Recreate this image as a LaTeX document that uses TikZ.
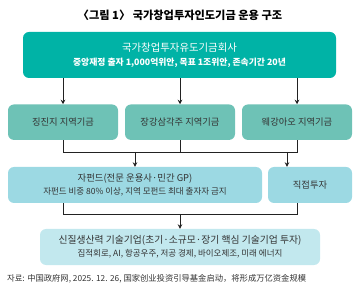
\documentclass[tikz,border=0pt]{standalone}
\usepackage{fontspec}
\setmainfont{Noto Sans CJK KR}
\newfontfamily\zhfont{Noto Sans CJK SC}
\usetikzlibrary{arrows.meta,calc}
\definecolor{cTop}{HTML}{00B3A6}
\definecolor{cRow}{HTML}{6EC2B6}
\definecolor{cMid}{HTML}{9CD9E3}
\definecolor{cBot}{HTML}{C2E8EE}
\definecolor{cTxt}{HTML}{333333}
\definecolor{cLine}{HTML}{222222}
\tikzset{
  boxbase/.style={rounded corners=6pt, inner sep=0pt, align=center, text=cTxt},
  topbox/.style={boxbase, fill=cTop, text=white, minimum width=313pt, minimum height=46pt},
  rowbox/.style={boxbase, fill=cRow, minimum width=110pt, minimum height=35.5pt},
  midbox/.style={boxbase, fill=cMid, minimum height=36pt},
  botbox/.style={boxbase, fill=cBot, minimum width=280pt, minimum height=36pt},
  conn/.style={draw=cLine, line width=0.8pt},
  arr/.style={conn, -{Stealth[length=4.5pt,width=4.5pt]}},
}
\begin{document}
\begin{tikzpicture}[x=1pt,y=-1pt]
\useasboundingbox (0,0) rectangle (361,288);
\node (title) at (180,15.5) {\fontsize{11.2pt}{13pt}\selectfont\bfseries 〈그림 1〉 국가창업투자인도기금 운용 구조};
\node[topbox] (top) at (179.5,55) {\fontsize{10.4pt}{12pt}\selectfont 국가창업투자유도기금회사\\[2pt]
  \fontsize{8.8pt}{10pt}\selectfont\bfseries 중앙재정 출자 1,000억위안, 목표 1조위안, 존속기간 20년};
\node[rowbox] (b1) at (63,122.2) {\fontsize{9.3pt}{11pt}\selectfont 징진지 지역기금};
\node[rowbox] (b2) at (180,122.2) {\fontsize{9.3pt}{11pt}\selectfont 장강삼각주 지역기금};
\node[rowbox] (b3) at (297,122.2) {\fontsize{9.3pt}{11pt}\selectfont 웨강아오 지역기금};
\node[midbox, minimum width=254pt] (sub) at (135,185) {\fontsize{9.4pt}{11pt}\selectfont 자펀드(전문 운용사·민간 GP)\\[1pt]
  \fontsize{8.5pt}{10pt}\selectfont 자펀드 비중 80\% 이상, 지역 모펀드 최대 출자자 금지};
\node[midbox, minimum width=84pt] (dir) at (310,185) {\fontsize{9.3pt}{11pt}\selectfont 직접투자};
\node[botbox] (tech) at (180,247) {\fontsize{9.8pt}{11.5pt}\selectfont 신질생산력 기술기업(초기·소규모·장기 핵심 기술기업 투자)\\[1pt]
  \fontsize{8.5pt}{10pt}\selectfont 집적회로, AI, 항공우주, 저공 경제, 바이오제조, 미래 에너지};
\node[anchor=west, inner sep=0pt, text=cTxt] (src) at (7,278.5) {\fontsize{8.3pt}{10pt}\selectfont 자료: {\zhfont 中国政府网}, 2025. 12. 26, {\zhfont 国家创业投资引导基金启动，将形成万亿资金规模}};
% top to regional funds
\draw[arr] (top.south -| b1.north) -- (b1.north);
\draw[arr] (top.south -| b2.north) -- (b2.north);
\draw[arr] (top.south -| b3.north) -- (b3.north);
% regional funds to sub funds / direct
\coordinate (j1) at (63,152);
\coordinate (j3) at (297,152);
\coordinate (ja) at (135,152);
\coordinate (jb) at (287,152);
\draw[conn] (b1.south) -- (j1) -- (j3) -- (b3.south);
\draw[conn] (b2.south) -- (b2.south |- j1);
\draw[arr] (ja) -- (ja |- sub.north);
\draw[arr] (jb) -- (jb |- dir.north);
% sub/direct to tech
\coordinate (k1) at (63,214);
\coordinate (k3) at (297,214);
\coordinate (kc) at (180,214);
\draw[conn] (k1 |- sub.south) -- (k1) -- (k3) -- (k3 |- dir.south);
\draw[arr] (kc) -- (tech.north);
\end{tikzpicture}
\end{document}
